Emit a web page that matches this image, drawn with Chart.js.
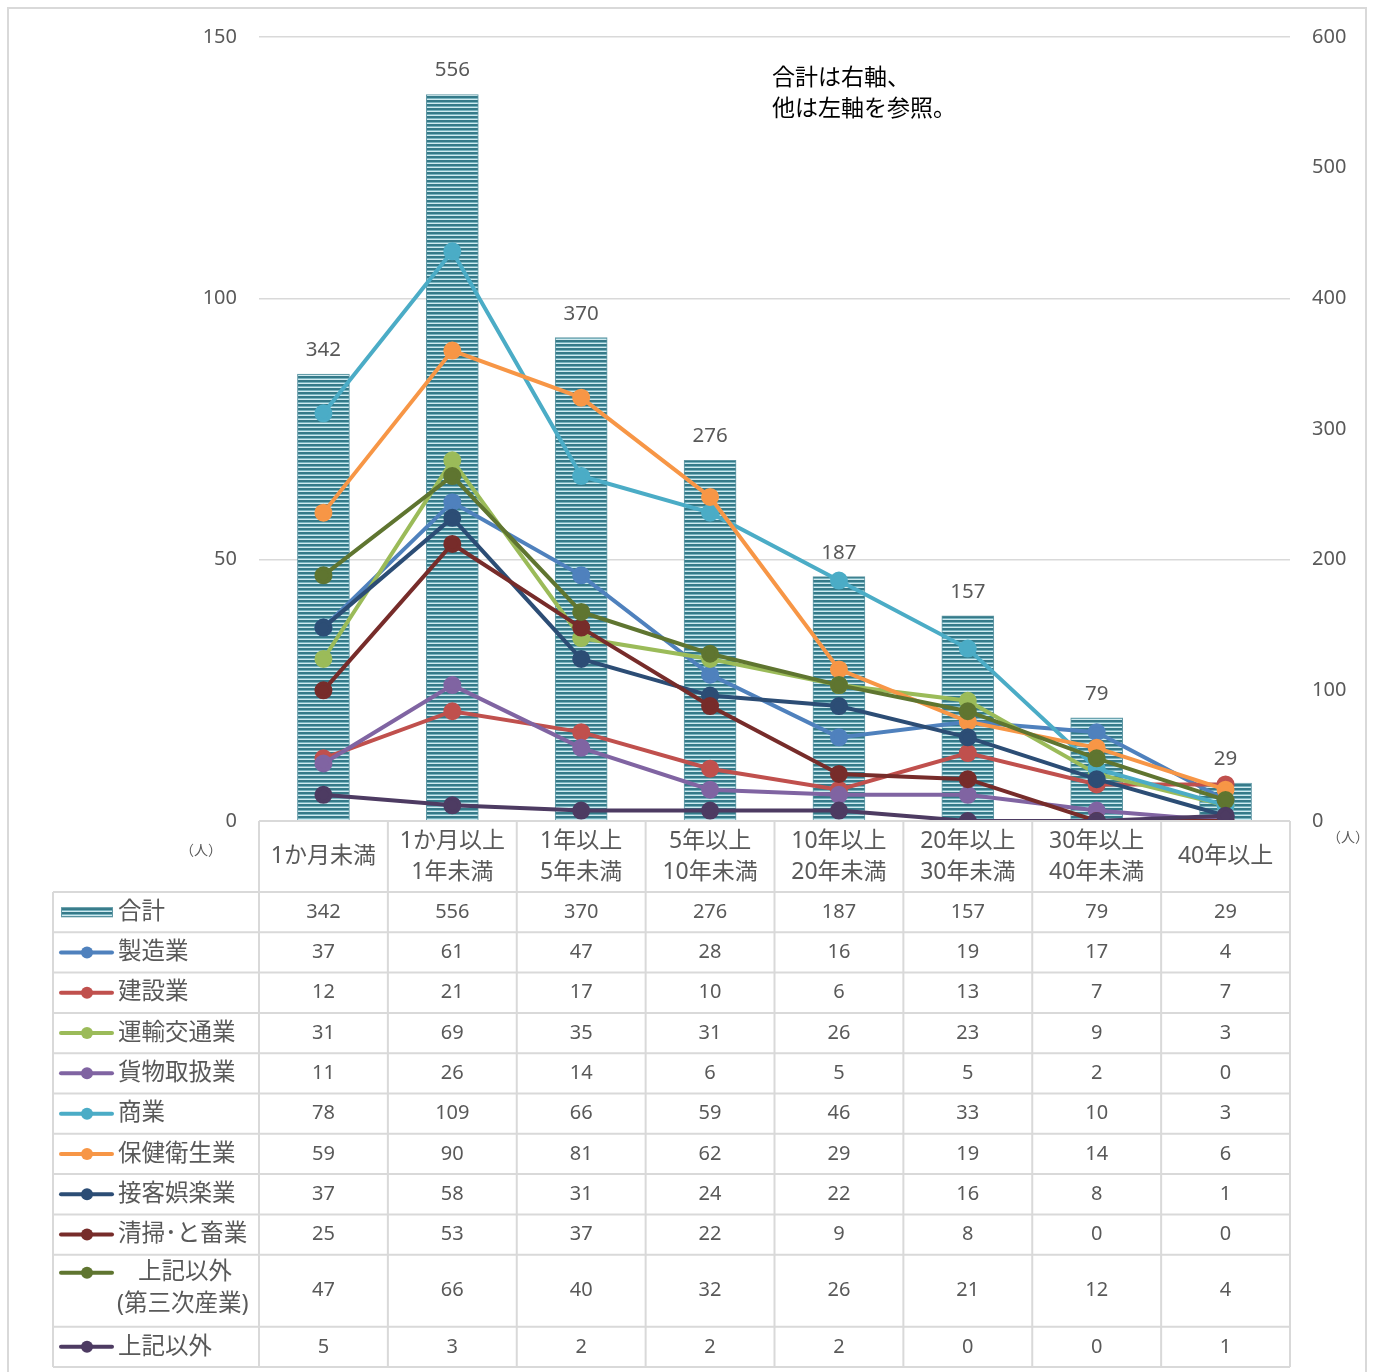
<!DOCTYPE html>
<html lang="ja">
<head>
<meta charset="utf-8">
<title>勤続期間別 業種別人数</title>
<script src="https://cdn.jsdelivr.net/npm/chart.js@4.4.1/dist/chart.umd.min.js"></script>
<style>
  html, body { margin: 0; padding: 0; background: #ffffff; }
  #wrap { width: 1374px; height: 1372px; position: relative; }
</style>
</head>
<body>
<div id="wrap"><canvas id="c" width="1374" height="1372"></canvas></div>
<script>
// 勤続期間の区分(表の見出しは2行)
const categories = [
  ['1か月未満'],
  ['1か月以上', '1年未満'],
  ['1年以上', '5年未満'],
  ['5年以上', '10年未満'],
  ['10年以上', '20年未満'],
  ['20年以上', '30年未満'],
  ['30年以上', '40年未満'],
  ['40年以上']
];

// 合計(右軸)
const totalValues = [342, 556, 370, 276, 187, 157, 79, 29];

// 業種別(左軸)
const seiZou      = [37, 61, 47, 28, 16, 19, 17, 4];
const kensetsu    = [12, 21, 17, 10, 6, 13, 7, 7];
const unyu        = [31, 69, 35, 31, 26, 23, 9, 3];
const kamotsu     = [11, 26, 14, 6, 5, 5, 2, 0];
const shougyou    = [78, 109, 66, 59, 46, 33, 10, 3];
const hoken       = [59, 90, 81, 62, 29, 19, 14, 6];
const sekkyaku    = [37, 58, 31, 24, 22, 16, 8, 1];
const seisou      = [25, 53, 37, 22, 9, 8, 0, 0];
const daisanji    = [47, 66, 40, 32, 26, 21, 12, 4];
const sonota      = [5, 3, 2, 2, 2, 0, 0, 1];

// 軸目盛
const leftTicks  = [0, 50, 100, 150];
const rightTicks = [0, 100, 200, 300, 400, 500, 600];

const lineSeries = [
  { label: ['製造業'],                   data: seiZou,   color: '#4F81BD' },
  { label: ['建設業'],                   data: kensetsu, color: '#C0504D' },
  { label: ['運輸交通業'],               data: unyu,     color: '#9BBB59' },
  { label: ['貨物取扱業'],               data: kamotsu,  color: '#8064A2' },
  { label: ['商業'],                     data: shougyou, color: '#4BACC6' },
  { label: ['保健衛生業'],               data: hoken,    color: '#F79646' },
  { label: ['接客娯楽業'],               data: sekkyaku, color: '#2C4D75' },
  { label: ['清掃･と畜業'],              data: seisou,   color: '#772C2A' },
  { label: ['上記以外', '(第三次産業)'], data: daisanji, color: '#5F7530' },
  { label: ['上記以外'],                 data: sonota,   color: '#4D3B62' }
];

const FONT = '"Noto Sans", "Noto Sans CJK JP", sans-serif';
const TEXT = '#595959';
const GRID = '#d9d9d9';

// 合計の棒に使う横縞模様
function stripePattern() {
  const p = document.createElement('canvas');
  p.width = 4; p.height = 4;
  const g = p.getContext('2d');
  g.fillStyle = '#357a89'; g.fillRect(0, 0, 4, 2);
  g.fillStyle = '#78b3bf'; g.fillRect(0, 2, 4, 1);
  g.fillStyle = '#d0eaef'; g.fillRect(0, 3, 4, 1);
  return g.createPattern(p, 'repeat');
}
const ctx0 = document.getElementById('c').getContext('2d');
const barFill = stripePattern();

const datasets = [
  {
    type: 'bar',
    label: '合計',
    data: totalValues,
    yAxisID: 'y1',
    backgroundColor: barFill,
    borderColor: '#5f97a4',
    borderWidth: { left: 1, right: 1, top: 1, bottom: 0 },
    barThickness: 52,
    order: 50
  }
].concat(lineSeries.map((s, i) => ({
  type: 'line',
  label: s.label.join(''),
  data: s.data,
  yAxisID: 'y',
  borderColor: s.color,
  backgroundColor: s.color,
  pointBackgroundColor: s.color,
  pointBorderColor: s.color,
  borderWidth: 4,
  pointRadius: 7,
  pointHoverRadius: 7,
  tension: 0,
  fill: false,
  order: 20 - i
})));

// 枠、棒の値、注記、データ表
const decorPlugin = {
  id: 'decor',
  beforeDraw(chart) {
    const c = chart.ctx;
    c.save();
    c.fillStyle = '#ffffff';
    c.fillRect(0, 0, chart.width, chart.height);
    c.strokeStyle = GRID;
    c.lineWidth = 2;
    c.strokeRect(8, 8, 1358, 1380);
    c.restore();
  },
  afterDatasetsDraw(chart) {
    const c = chart.ctx;
    const meta = chart.getDatasetMeta(0);
    c.save();
    c.font = '20.5px ' + FONT;
    c.fillStyle = TEXT;
    c.textAlign = 'center';
    c.textBaseline = 'alphabetic';
    meta.data.forEach((bar, i) => {
      c.fillText(String(totalValues[i]), bar.x, bar.y - 18);
    });
    c.restore();
  },
  afterDraw(chart) {
    const c = chart.ctx;
    const area = chart.chartArea;
    const xs = chart.scales.x;
    const n = categories.length;
    const colW = (area.right - area.left) / n;
    const tableLeft = 53;
    const headTop = area.bottom;
    const headH = 71;
    const rowH = 40.3;
    const dblH = 72;

    // 行の並び: 合計 + 各業種
    const rows = [{ label: ['合計'], data: totalValues, bar: true }]
      .concat(lineSeries.map(s => ({ label: s.label, data: s.data, color: s.color })));
    const tops = [];
    let y = headTop + headH;
    rows.forEach(r => { tops.push(y); y += (r.label.length > 1 ? dblH : rowH); });
    const tableBottom = y;

    c.save();
    // 注記
    c.fillStyle = '#000000';
    c.font = '23px ' + FONT;
    c.textAlign = 'left';
    c.textBaseline = 'middle';
    c.fillText('合計は右軸、', 772, 78);
    c.fillText('他は左軸を参照。', 772, 109);

    // 単位
    c.fillStyle = TEXT;
    c.font = '14px ' + FONT;
    c.textAlign = 'center';
    c.fillText('（人）', 201, 851);
    c.fillText('（人）', 1348, 838);

    // 罫線
    c.strokeStyle = GRID;
    c.lineWidth = 2;
    c.beginPath();
    c.moveTo(area.left, headTop); c.lineTo(area.right, headTop);
    for (let k = 0; k <= n; k++) {
      const x = area.left + k * colW;
      c.moveTo(x, headTop); c.lineTo(x, tableBottom);
    }
    c.moveTo(tableLeft, tops[0]); c.lineTo(tableLeft, tableBottom);
    tops.concat([tableBottom]).forEach(t => { c.moveTo(tableLeft, t); c.lineTo(area.right, t); });
    c.stroke();

    // 見出し
    c.fillStyle = TEXT;
    c.font = '23px ' + FONT;
    c.textAlign = 'center';
    c.textBaseline = 'middle';
    categories.forEach((lab, i) => {
      const cx = xs.getPixelForValue(i);
      const mid = headTop + headH / 2;
      if (lab.length === 1) {
        c.fillText(lab[0], cx, mid);
      } else {
        c.fillText(lab[0], cx, mid - 15.5);
        c.fillText(lab[1], cx, mid + 15.5);
      }
    });

    // 各行
    rows.forEach((r, ri) => {
      const top = tops[ri];
      const h = r.label.length > 1 ? dblH : rowH;
      const mid = top + h / 2;
      const symY = r.label.length > 1 ? top + 18 : mid;
      // 凡例記号
      if (r.bar) {
        c.fillStyle = barFill;
        c.fillRect(61, symY - 5, 52, 10);
        c.strokeStyle = '#5f97a4';
        c.lineWidth = 1;
        c.strokeRect(61.5, symY - 4.5, 51, 9);
      } else {
        c.strokeStyle = r.color;
        c.lineWidth = 4;
        c.lineCap = 'round';
        c.beginPath();
        c.moveTo(61, symY); c.lineTo(112, symY);
        c.stroke();
        c.fillStyle = r.color;
        c.beginPath();
        c.arc(87, symY, 6, 0, Math.PI * 2);
        c.fill();
      }
      // 凡例文字
      c.fillStyle = TEXT;
      c.font = '23.5px ' + FONT;
      if (r.label.length > 1) {
        c.textAlign = 'center';
        c.fillText(r.label[0], 185, top + 18);
        c.textAlign = 'left';
        c.fillText(r.label[1], 117, top + 50);
      } else {
        c.textAlign = 'left';
        c.fillText(r.label[0], 118, mid);
      }
      // 値
      c.font = '20px ' + FONT;
      c.textAlign = 'center';
      r.data.forEach((v, i) => {
        c.fillText(String(v), xs.getPixelForValue(i), mid);
      });
    });
    c.restore();
  }
};

Chart.defaults.font.family = FONT;
Chart.defaults.color = TEXT;

new Chart(ctx0, {
  data: {
    labels: categories.map(l => l.join('')),
    datasets: datasets
  },
  options: {
    responsive: false,
    animation: false,
    events: [],
    layout: { padding: { top: 37, bottom: 551, left: 0, right: 0 } },
    plugins: {
      legend: { display: false },
      tooltip: { enabled: false },
      title: { display: false }
    },
    scales: {
      x: {
        type: 'category',
        display: false,
        offset: true,
        grid: { display: false }
      },
      y: {
        type: 'linear',
        position: 'left',
        min: leftTicks[0],
        max: leftTicks[leftTicks.length - 1],
        afterBuildTicks(scale) { scale.ticks = leftTicks.map(v => ({ value: v })); },
        afterFit(scale) { scale.width = 259; },
        border: { display: false },
        grid: { color: GRID, lineWidth: 1.5, drawTicks: false },
        ticks: { padding: 22, color: TEXT, font: { size: 20, family: FONT } }
      },
      y1: {
        type: 'linear',
        position: 'right',
        min: rightTicks[0],
        max: rightTicks[rightTicks.length - 1],
        afterBuildTicks(scale) { scale.ticks = rightTicks.map(v => ({ value: v })); },
        afterFit(scale) { scale.width = 84; },
        border: { display: false },
        grid: { display: false, drawTicks: false },
        ticks: { padding: 22, color: TEXT, font: { size: 20, family: FONT } }
      }
    }
  },
  plugins: [decorPlugin]
});
</script>
</body>
</html>
